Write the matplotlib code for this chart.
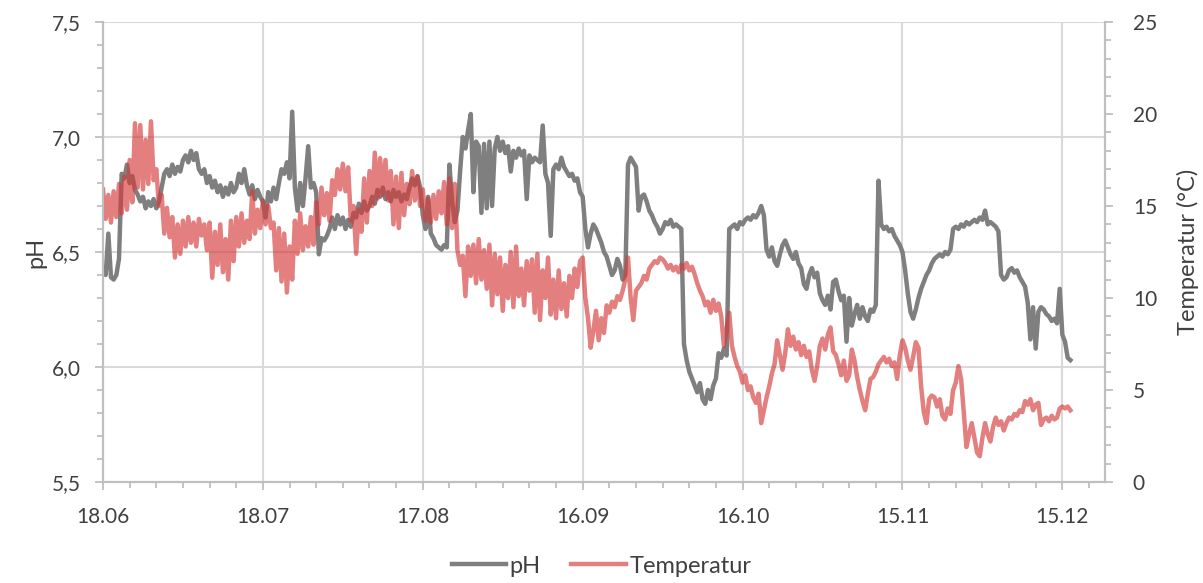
import matplotlib
matplotlib.use("Agg")
import matplotlib.pyplot as plt
import matplotlib.dates as mdates
from matplotlib.ticker import MultipleLocator
import numpy as np
import pandas as pd

# readings every 12 h, starting 18.06
start = "2020-06-18"
ph = [
    6.43, 6.40, 6.58, 6.39, 6.38, 6.40, 6.47, 6.84, 6.82, 6.88,
    6.80, 6.83, 6.77, 6.75, 6.72, 6.74, 6.69, 6.72, 6.70, 6.73,
    6.69, 6.72, 6.78, 6.84, 6.86, 6.83, 6.88, 6.84, 6.87, 6.85,
    6.90, 6.92, 6.89, 6.94, 6.90, 6.93, 6.86, 6.84, 6.86, 6.80,
    6.83, 6.78, 6.81, 6.76, 6.79, 6.74, 6.78, 6.75, 6.80, 6.76,
    6.78, 6.84, 6.80, 6.86, 6.79, 6.75, 6.79, 6.73, 6.77, 6.74,
    6.72, 6.65, 6.76, 6.72, 6.78, 6.73, 6.80, 6.86, 6.84, 6.89,
    6.82, 7.11, 6.78, 6.68, 6.80, 6.70, 6.82, 6.96, 6.78, 6.80,
    6.76, 6.49, 6.56, 6.55, 6.57, 6.60, 6.65, 6.60, 6.66, 6.62,
    6.65, 6.60, 6.64, 6.61, 6.67, 6.65, 6.71, 6.67, 6.72, 6.68,
    6.70, 6.74, 6.71, 6.77, 6.74, 6.78, 6.73, 6.76, 6.72, 6.77,
    6.74, 6.76, 6.72, 6.75, 6.73, 6.78, 6.82, 6.79, 6.83, 6.78,
    6.66, 6.60, 6.74, 6.58, 6.56, 6.53, 6.52, 6.51, 6.53, 6.52,
    6.88, 6.72, 6.63, 6.68, 6.85, 7.00, 6.95, 7.03, 7.10, 6.76,
    6.98, 6.96, 6.67, 6.97, 6.69, 6.98, 6.70, 6.95, 7.00, 6.94,
    6.98, 6.93, 6.96, 6.85, 6.94, 6.91, 6.95, 6.92, 6.94, 6.73,
    6.92, 6.89, 6.91, 6.90, 6.89, 7.05, 6.84, 6.80, 6.57, 6.86,
    6.88, 6.86, 6.91, 6.87, 6.85, 6.83, 6.84, 6.81, 6.82, 6.76,
    6.74, 6.60, 6.52, 6.58, 6.62, 6.60, 6.57, 6.54, 6.50, 6.48,
    6.44, 6.40, 6.42, 6.47, 6.44, 6.38, 6.40, 6.88, 6.91, 6.89,
    6.87, 6.68, 6.74, 6.75, 6.72, 6.68, 6.66, 6.63, 6.61, 6.58,
    6.60, 6.63, 6.62, 6.64, 6.61, 6.62, 6.61, 6.60, 6.10, 6.03,
    5.98, 5.95, 5.92, 5.89, 5.93, 5.86, 5.84, 5.90, 5.86, 5.92,
    5.95, 6.06, 6.04, 6.08, 6.05, 6.60, 6.61, 6.62, 6.60, 6.63,
    6.62, 6.64, 6.65, 6.64, 6.66, 6.65, 6.67, 6.70, 6.66, 6.51,
    6.48, 6.52, 6.46, 6.44, 6.49, 6.53, 6.55, 6.52, 6.49, 6.47,
    6.50, 6.45, 6.43, 6.36, 6.34, 6.40, 6.43, 6.39, 6.41, 6.32,
    6.29, 6.27, 6.31, 6.25, 6.37, 6.38, 6.33, 6.29, 6.31, 6.11,
    6.30, 6.18, 6.23, 6.27, 6.21, 6.26, 6.22, 6.20, 6.25, 6.24,
    6.27, 6.81, 6.62, 6.60, 6.61, 6.59, 6.60, 6.57, 6.55, 6.53,
    6.50, 6.42, 6.32, 6.24, 6.21, 6.25, 6.30, 6.34, 6.37, 6.40,
    6.42, 6.45, 6.47, 6.48, 6.49, 6.48, 6.50, 6.49, 6.51, 6.60,
    6.61, 6.60, 6.62, 6.61, 6.63, 6.62, 6.63, 6.64, 6.63, 6.65,
    6.64, 6.68, 6.62, 6.63, 6.62, 6.61, 6.59, 6.40, 6.38, 6.39,
    6.42, 6.43, 6.41, 6.42, 6.39, 6.37, 6.35, 6.28, 6.12, 6.26,
    6.08, 6.24, 6.26, 6.25, 6.23, 6.22, 6.20, 6.21, 6.19, 6.34,
    6.14, 6.11, 6.04, 6.03,
]
temp = [
    15.9, 14.3, 15.6, 14.1, 15.8, 14.4, 16.2, 14.6, 16.6, 14.8,
    17.5, 15.2, 19.5, 16.0, 19.4, 15.9, 18.6, 16.2, 19.6, 16.4,
    17.0, 15.0, 15.6, 13.5, 14.9, 13.3, 14.4, 12.2, 14.0, 12.4,
    14.2, 12.8, 14.4, 13.0, 14.1, 12.8, 14.3, 13.4, 14.0, 12.6,
    14.1, 11.1, 13.6, 11.8, 14.0, 11.4, 13.2, 11.0, 14.2, 12.0,
    14.4, 12.8, 14.6, 13.0, 14.2, 13.2, 15.8, 13.5, 14.8, 13.8,
    15.3, 14.0, 15.0, 13.8, 14.1, 11.5, 13.8, 10.9, 13.5, 10.3,
    12.8, 11.0, 14.2, 12.4, 14.6, 12.6, 13.9, 12.8, 14.4, 12.9,
    15.2, 14.0, 16.0, 14.5, 15.7, 14.2, 16.4, 15.6, 17.0, 15.9,
    17.3, 15.8, 17.1, 14.2, 15.0, 12.4, 14.8, 13.6, 16.5, 14.1,
    16.9, 15.0, 17.9, 15.4, 17.6, 15.6, 17.5, 15.3, 16.9, 14.0,
    16.6, 13.8, 16.8, 14.5, 16.2, 15.1, 16.9, 15.3, 16.6, 15.0,
    15.9, 14.2, 15.4, 14.1, 15.6, 14.3, 15.8, 14.6, 16.3, 14.0,
    16.5, 13.8, 16.2, 12.6, 11.8, 12.3, 10.1, 12.8, 11.2, 12.9,
    10.8, 13.2, 11.0, 12.6, 10.5, 12.9, 9.6, 12.4, 10.2, 12.2,
    9.3, 11.8, 10.0, 12.5, 9.5, 12.8, 10.1, 11.6, 9.6, 12.0,
    10.4, 12.1, 9.2, 12.4, 8.8, 11.5, 10.0, 12.2, 9.1, 11.0,
    8.9, 11.5, 9.4, 10.8, 9.0, 11.2, 10.0, 11.6, 10.6, 12.0,
    12.2, 10.0, 8.9, 7.3, 8.2, 9.3, 7.7, 8.9, 8.1, 9.6,
    9.2, 9.8, 9.5, 10.1, 9.9, 10.4, 11.0, 12.2, 10.0, 8.8,
    10.4, 10.6, 10.8, 11.2, 11.0, 11.6, 11.8, 12.0, 11.9, 12.2,
    12.1, 11.9, 11.6, 11.8, 11.5, 11.7, 11.4, 11.8, 11.6, 11.9,
    11.5, 11.7, 11.3, 10.8, 10.4, 10.1, 9.6, 9.8, 9.2, 9.9,
    9.3, 9.7, 9.0, 7.4, 8.3, 9.2, 7.4, 6.8, 6.3, 6.0,
    5.4, 5.8, 5.0, 5.2, 4.6, 4.3, 4.8, 3.2, 3.9, 4.6,
    5.2, 5.9, 6.4, 7.7, 6.9, 6.1, 7.0, 8.3, 7.4, 7.9,
    7.2, 7.6, 6.9, 7.4, 6.8, 7.1, 6.1, 5.5, 6.3, 7.4,
    7.8, 7.2, 8.0, 8.4, 7.1, 6.9, 6.4, 5.8, 6.6, 5.5,
    5.8, 7.2, 6.6, 5.7, 5.0, 4.4, 3.9, 4.8, 5.6, 5.7,
    6.0, 6.4, 6.6, 6.8, 6.5, 6.7, 6.3, 6.5, 5.6, 6.9,
    7.7, 7.3, 6.6, 6.1, 6.8, 7.6, 7.3, 5.2, 3.8, 3.2,
    4.5, 4.7, 4.6, 4.1, 4.5, 3.6, 3.4, 4.0, 3.7, 5.0,
    5.4, 6.3, 5.6, 3.8, 1.9, 2.6, 3.2, 2.4, 1.6, 1.4,
    2.4, 3.2, 2.6, 2.2, 3.0, 3.5, 3.1, 3.3, 2.8, 3.2,
    3.5, 3.4, 3.7, 3.6, 3.9, 3.8, 4.4, 4.2, 4.5, 3.9,
    4.2, 4.3, 3.1, 3.4, 3.5, 3.3, 3.6, 3.4, 3.5, 4.0,
    4.1, 4.0, 4.1, 3.9,
]
tick_dates = ["2020-06-18", "2020-07-18", "2020-08-17", "2020-09-16",
              "2020-10-16", "2020-11-15", "2020-12-15"]

plt.rcParams['font.family'] = ['Lato', 'DejaVu Sans']
txt = '#404040'
fs_tick = 15
fs_lab = 17

times = pd.date_range(start, periods=len(ph), freq='12h')

fig = plt.figure(figsize=(12.03, 5.83), dpi=100)
ax = fig.add_axes([103 / 1203, 101 / 583, 1002 / 1203, 460 / 583])
ax2 = ax.twinx()

l1, = ax.plot(times, ph, color='#7f7f7f', lw=3.2, solid_joinstyle='round')
l2, = ax2.plot(times, temp, color='#d43a3a', alpha=0.65, lw=3.2,
               solid_joinstyle='round')

ax.set_xlim(pd.Timestamp("2020-06-18"), pd.Timestamp("2020-12-23"))
ax.set_ylim(5.5, 7.5)
ax2.set_ylim(0, 25)

ax.set_xticks(pd.to_datetime(tick_dates))
ax.xaxis.set_major_formatter(mdates.DateFormatter('%d.%m'))
ax.set_xticks(pd.date_range("2020-06-18", "2020-12-23", freq='5D'), minor=True)

ax.yaxis.set_major_locator(MultipleLocator(0.5))
ax.yaxis.set_minor_locator(MultipleLocator(0.1))
ax.yaxis.set_major_formatter(lambda v, p: f"{v:.1f}".replace('.', ','))
ax2.yaxis.set_major_locator(MultipleLocator(5))
ax2.yaxis.set_minor_locator(MultipleLocator(1))

ax.grid(True, which='major', color='#d9d9d9', lw=1.5)
ax.set_axisbelow(True)
for a in (ax, ax2):
    for s in a.spines.values():
        s.set_color('#bfbfbf')
        s.set_linewidth(1.5)
    a.spines['top'].set_visible(False)
    a.tick_params(which='both', colors='#bfbfbf', width=1.3, labelcolor=txt,
                  labelsize=fs_tick)
    a.tick_params(which='major', length=6)
    a.tick_params(which='minor', length=4)
ax.tick_params(axis='x', pad=12)
ax.tick_params(axis='y', pad=10)
ax2.tick_params(axis='y', pad=14)

ax.set_ylabel('pH', fontsize=fs_lab, color=txt, labelpad=4)
ax2.set_ylabel('Temperatur (°C)', fontsize=fs_lab, color=txt, labelpad=14)

fig.legend([l1, l2], ['pH', 'Temperatur'], loc='center',
           bbox_to_anchor=(0.5, 0.029), ncol=2, frameon=False,
           fontsize=fs_lab, handlelength=2.3, handletextpad=0.15,
           columnspacing=1.3, labelcolor=txt)

fig.savefig('out.png', dpi=100)
